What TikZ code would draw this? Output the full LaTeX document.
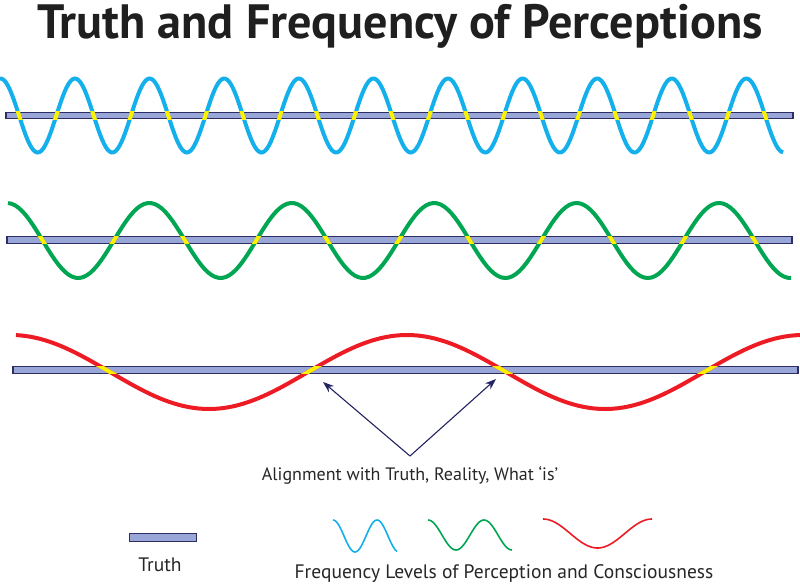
\documentclass[tikz,border=0pt]{standalone}
\usepackage{fontspec}
\setsansfont{PT Sans}
\usepackage{tikz}
\usetikzlibrary{arrows.meta}
\definecolor{barfill}{RGB}{152,166,216}
\definecolor{barline}{RGB}{46,46,100}
\definecolor{cyanwave}{RGB}{20,176,236}
\definecolor{greenwave}{RGB}{0,166,81}
\definecolor{redwave}{RGB}{237,28,36}
\definecolor{hit}{RGB}{255,240,0}
\definecolor{navy}{RGB}{34,34,96}

\begin{document}
\begin{tikzpicture}[x=1pt, y=-1pt,
  bar/.style={draw=barline, fill=barfill, line width=1.2pt, inner sep=0pt, minimum height=6.5pt},
  wave/.style={line width=4pt},
  keywave/.style={line width=1.6pt},
  pointer/.style={navy, line width=1.1pt, -{Stealth[length=11pt, width=8pt]}},
  txt/.style={font=\sffamily\fontsize{18}{20}\selectfont, text=black!85, anchor=base, inner sep=0pt},
  keytxt/.style={txt, font=\sffamily\fontsize{19.5}{22}\selectfont}]
\useasboundingbox (0,0) rectangle (800,586);
\node[font=\sffamily\bfseries\fontsize{48.2}{52}\selectfont, text=black!88, anchor=base, inner sep=0pt] (title) at (400,39) {Truth and Frequency of Perceptions};
% the three truth bars
\node[bar, minimum width=787pt] (t1) at (399.5,115.5) {};
\node[bar, minimum width=785pt] (t2) at (399.5,240) {};
\node[bar, minimum width=785pt] (t3) at (405.5,370) {};
% waves
\draw[wave, cyanwave] plot[domain=0:783, samples=400] (\x, {115.5-37*cos(4.8257*(\x-0.4))});
\draw[wave, greenwave] plot[domain=8:791, samples=220] (\x, {240.5-37.5*cos(2.5281*(\x-7))});
\draw[wave, redwave] plot[domain=16:800, samples=160] (\x, {372-37*cos(0.90909*(\x-11))});
% yellow where the waves meet the truth
\begin{scope}
\clip (t1.south west) rectangle (t1.north east);
\draw[wave, hit] plot[domain=0:783, samples=400] (\x, {115.5-37*cos(4.8257*(\x-0.4))});
\end{scope}
\begin{scope}
\clip (t2.south west) rectangle (t2.north east);
\draw[wave, hit] plot[domain=8:791, samples=220] (\x, {240.5-37.5*cos(2.5281*(\x-7))});
\end{scope}
\begin{scope}
\clip (t3.south west) rectangle (t3.north east);
\draw[wave, hit] plot[domain=16:800, samples=160] (\x, {372-37*cos(0.90909*(\x-11))});
\end{scope}
% pointers
\node[txt] (align) at (410,480) {Alignment with Truth, Reality, What ‘is’};
\coordinate (apex) at (410,456);
\coordinate (m1) at (323,382);
\coordinate (m2) at (496,379);
\draw[pointer] (apex) -- (m1);
\draw[pointer] (apex) -- (m2);
% key
\node[bar, line width=1.8pt, minimum width=67pt, minimum height=8pt] (key) at (163,537.5) {};
\node[keytxt] (truth) at (160,571) {Truth};
\draw[keywave, cyanwave] plot[domain=333:397, samples=60] (\x, {536-16*cos(8.1818*(\x-333))});
\draw[keywave, greenwave] plot[domain=428:512, samples=60] (\x, {535-15*cos(6.4286*(\x-428))});
\draw[keywave, redwave] plot[domain=543:652, samples=60] (\x, {533.5-14.5*cos(3.3028*(\x-543))});
\node[keytxt] (levels) at (504,578) {Frequency Levels of Perception and Consciousness};
\end{tikzpicture}
\end{document}
